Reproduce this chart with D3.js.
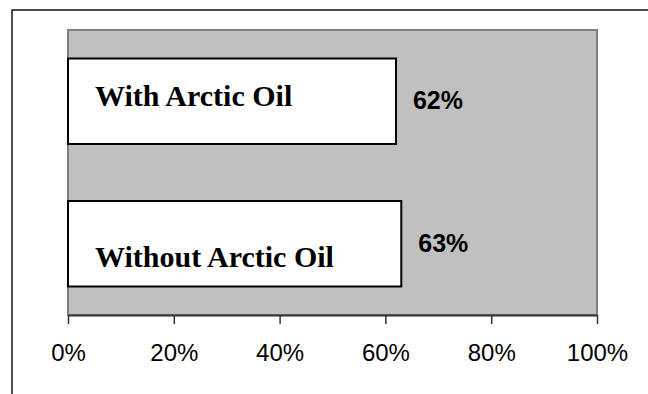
<!DOCTYPE html>
<html>
<head>
<meta charset="utf-8">
<script src="https://cdn.jsdelivr.net/npm/d3@7"></script>
<style>
  html, body { margin: 0; padding: 0; background: #fff; }
  svg { display: block; }
</style>
</head>
<body>
<svg id="chart" width="648" height="394"></svg>
<script>
var categories = ["With Arctic Oil", "Without Arctic Oil"],
    values = [0.62, 0.63],
    valueLabels = ["62%", "63%"],
    ticks = [0, 0.2, 0.4, 0.6, 0.8, 1.0];

var svg = d3.select("#chart"),
    plot = { left: 68, top: 30, right: 597, bottom: 315 };

// outer frame, runs off the right and bottom of the picture
svg.append("rect")
    .attr("x", 12).attr("y", 10)
    .attr("width", 700).attr("height", 500)
    .attr("fill", "none")
    .attr("stroke", "#222")
    .attr("stroke-width", 1.6);

var x = d3.scaleLinear().domain([0, 1]).range([plot.left, plot.right]),
    y = d3.scaleBand().domain(categories)
      .range([plot.top, plot.bottom])
      .paddingInner(0.4).paddingOuter(0.2);

svg.append("rect")
    .attr("x", plot.left).attr("y", plot.top)
    .attr("width", plot.right - plot.left)
    .attr("height", plot.bottom - plot.top)
    .attr("fill", "#c0c0c0")
    .attr("stroke", "#808080")
    .attr("stroke-width", 2);

var axis = svg.append("g")
    .attr("transform", "translate(0," + plot.bottom + ")")
    .call(d3.axisBottom(x)
      .tickValues(ticks)
      .tickFormat(d3.format(".0%"))
      .tickSizeInner(9).tickSizeOuter(0).tickPadding(22));

axis.select(".domain").attr("stroke", "#333").attr("stroke-width", 2);
axis.selectAll(".tick line").attr("stroke", "#333").attr("stroke-width", 1.5);
axis.selectAll(".tick text")
    .attr("fill", "#000")
    .attr("dy", 0)
    .attr("y", 46)
    .style("font-family", "Arial, 'Liberation Sans', sans-serif")
    .style("font-size", "24px");

var bars = svg.selectAll("g.bar")
    .data(categories)
    .enter()
    .append("g")
      .attr("class", "bar");

bars.append("rect")
    .attr("x", x(0))
    .attr("y", function(d) { return y(d); })
    .attr("width", function(d, i) { return x(values[i]) - x(0); })
    .attr("height", y.bandwidth())
    .attr("fill", "#fff")
    .attr("stroke", "#000")
    .attr("stroke-width", 2);

// text boxes sit at different heights inside each bar
var nameDy = [47.5, 66];

bars.append("text")
    .attr("x", x(0) + 27)
    .attr("y", function(d, i) { return y(d) + nameDy[i]; })
    .style("font-family", "'Times New Roman', 'Liberation Serif', serif")
    .style("font-weight", "bold")
    .style("font-size", "30px")
    .text(function(d) { return d; });

bars.append("text")
    .attr("x", function(d, i) { return x(values[i]) + 17; })
    .attr("y", function(d) { return y(d) + y.bandwidth() / 2 + 8; })
    .style("font-family", "Arial, 'Liberation Sans', sans-serif")
    .style("font-weight", "bold")
    .style("font-size", "25px")
    .text(function(d, i) { return valueLabels[i]; });
</script>
</body>
</html>
